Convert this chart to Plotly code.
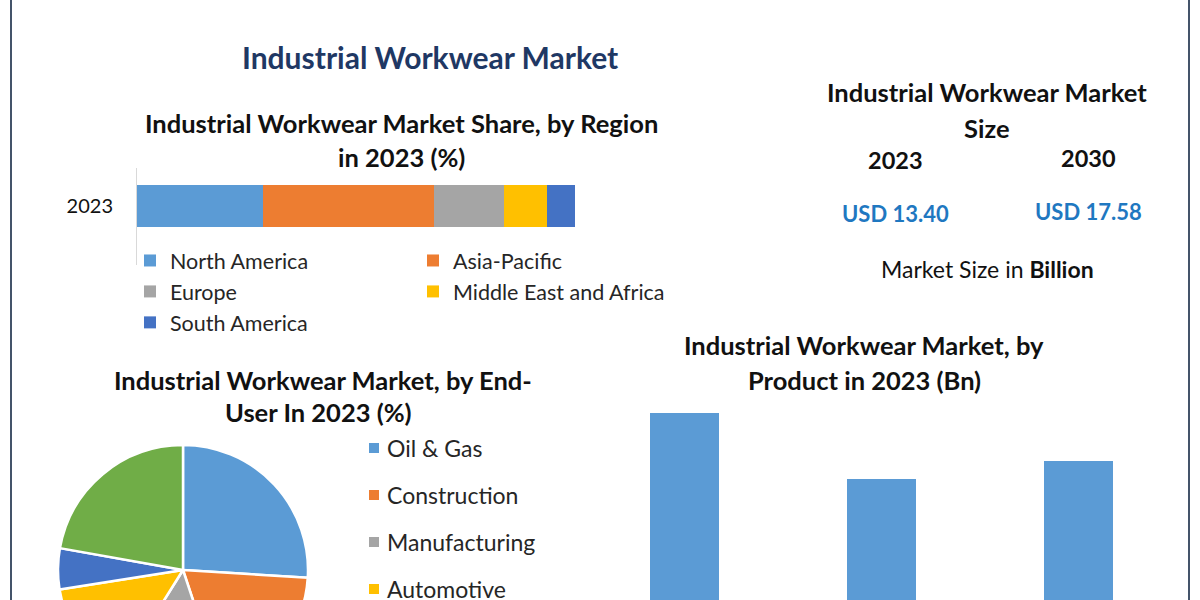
import plotly.graph_objects as go

# ---------------- data ----------------
region_year = ["2023"]
regions = ["North America", "Asia-Pacific", "Europe", "Middle East and Africa", "South America"]
region_share = [28.8, 39.0, 16.0, 9.8, 6.4]
region_colors = ["#5b9bd5", "#ed7d31", "#a5a5a5", "#ffc000", "#4472c4"]
region_legend = ["legend", "legend2", "legend", "legend2", "legend"]

end_users = ["Oil & Gas", "Construction", "Manufacturing", "Automotive", "Mining", "Others"]
end_user_share = [26.0, 18.9, 14.0, 13.6, 5.3, 22.2]
end_user_colors = ["#5b9bd5", "#ed7d31", "#a5a5a5", "#ffc000", "#4472c4", "#70ad47"]

products = ["Topwear", "Bottomwear", "Coveralls"]
product_value = [5.15, 3.97, 4.28]

size_years = ["2023", "2030"]
size_values = ["USD 13.40", "USD 17.58"]

# ---------------- layout helpers ----------------
W, H = 1200, 720
def px(x):
    return x / W
def py(y):
    return 1 - y / H

FONT = "Lato"
BLACK = "#111111"

fig = go.Figure()

# stacked regional bar
for name, val, col, lg in zip(regions, region_share, region_colors, region_legend):
    fig.add_trace(go.Bar(
        y=region_year, x=[val], name=name, orientation="h",
        marker=dict(color=col, line=dict(width=0)), width=0.433,
        legend=lg, legendgroup=name, xaxis="x", yaxis="y",
    ))

# product bars
fig.add_trace(go.Bar(
    x=products, y=product_value, marker=dict(color="#5b9bd5", line=dict(width=0)),
    showlegend=False, xaxis="x2", yaxis="y2",
))

# end-user pie
fig.add_trace(go.Pie(
    labels=end_users, values=end_user_share, sort=False, direction="clockwise",
    rotation=0, textinfo="none", showlegend=False,
    marker=dict(colors=end_user_colors, line=dict(color="white", width=2.5)),
    domain=dict(x=[px(58), px(308)], y=[py(695), py(445)]),
))

LEGFONT = dict(size=21.5, family=FONT, color="#262626")
fig.update_layout(
    width=W, height=H, margin=dict(l=0, r=0, t=0, b=0),
    paper_bgcolor="white", plot_bgcolor="white",
    barmode="stack", bargap=0.65,
    font=dict(family=FONT, color=BLACK),
    xaxis=dict(domain=[px(137), px(575)], range=[0, 100], visible=False, fixedrange=True),
    yaxis=dict(domain=[py(265), py(168)], range=[-0.608, 0.392], showline=True,
               linecolor="#d9d9d9", linewidth=1, ticks="", showgrid=False,
               tickfont=dict(size=20, family=FONT, color=BLACK), ticklabelstandoff=19),
    xaxis2=dict(domain=[px(586), px(1177)], anchor="y2", visible=False),
    yaxis2=dict(domain=[py(700), py(400)], range=[0, 300 / 55.73], anchor="x2", visible=False),
    legend=dict(x=px(130), y=py(240), xanchor="left", yanchor="top", orientation="v",
                font=LEGFONT, tracegroupgap=0,
                bgcolor="rgba(0,0,0,0)", itemclick=False),
    legend2=dict(x=px(413), y=py(240), xanchor="left", yanchor="top", orientation="v",
                 font=LEGFONT, tracegroupgap=0,
                 bgcolor="rgba(0,0,0,0)", itemclick=False),
)

ann = []
def text(x, y, s, size, color=BLACK, bold=True, xanchor="center"):
    ann.append(dict(x=px(x), y=py(y), xref="paper", yref="paper", text=s, showarrow=False,
                    xanchor=xanchor, yanchor="middle",
                    font=dict(size=size, color=color, family=FONT, weight="bold" if bold else "normal")))

text(430, 57, "Industrial Workwear Market", 30, color="#1f3864")
text(401, 123, "Industrial Workwear Market Share, by Region", 25.5)
text(401, 157, "in 2023 (%)", 25.5)
text(987, 92, "Industrial Workwear Market", 25.5)
text(987, 128, "Size", 25.5)
for xc, yv, yl, lab, val in zip([895, 1088], [160, 158], [213, 211], size_years, size_values):
    text(xc, yv, lab, 23.5)
    text(xc, yl, val, 22, color="#1f78c1")
text(987, 269, "Market Size in <b>Billion</b>", 23, bold=False)
text(323, 380, "Industrial Workwear Market, by End-", 25.5)
text(318, 412, "User In 2023 (%)", 25.5)
text(864, 345, "Industrial Workwear Market, by", 25.5)
text(864, 380, "Product in 2023 (Bn)", 25.5)

shapes = []
for i, (lab, col) in enumerate(zip(end_users, end_user_colors)):
    yc = 448 + 47 * i
    shapes.append(dict(type="rect", xref="paper", yref="paper", x0=px(369), x1=px(379),
                       y0=py(yc + 5), y1=py(yc - 5), fillcolor=col, line=dict(width=0)))
    text(385, yc, lab, 23, color="#262626", bold=False, xanchor="left")

for xb in [11, 1189]:
    shapes.append(dict(type="line", xref="paper", yref="paper", x0=px(xb), x1=px(xb),
                       y0=0, y1=1, line=dict(color="#44546a", width=2)))

fig.update_layout(annotations=ann, shapes=shapes)

fig.write_html("out.html", config={"displayModeBar": False},
               post_script="document.body.style.margin='0';document.body.style.overflow='hidden';")
